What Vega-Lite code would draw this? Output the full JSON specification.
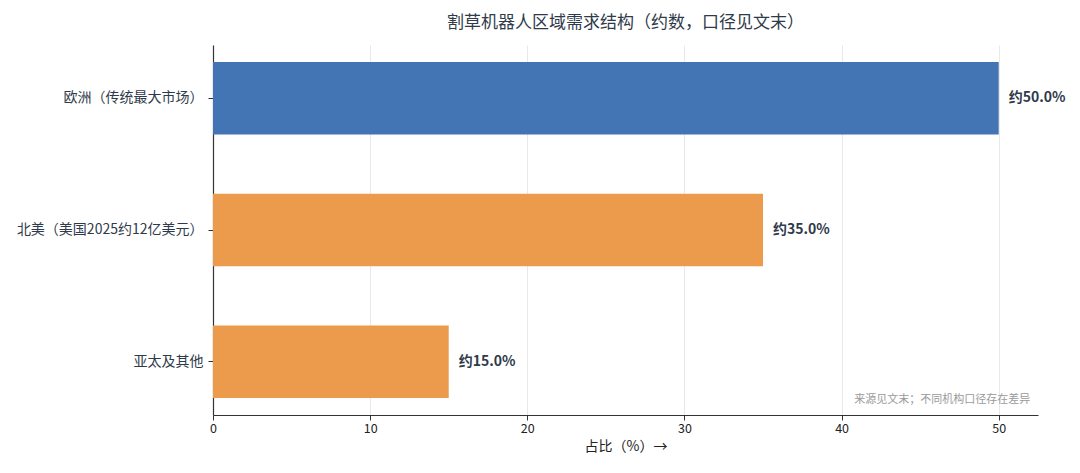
{
  "$schema": "https://vega.github.io/schema/vega-lite/v6.json",
  "width": 825,
  "height": 370,
  "autosize": {"type": "none"},
  "padding": {"left": 213, "top": 45, "right": 42, "bottom": 58},
  "background": "white",
  "config": {
    "font": "Noto Sans CJK SC",
    "view": {"stroke": null},
    "axis": {"labelFont": "Noto Sans CJK SC", "titleFont": "Noto Sans CJK SC"}
  },
  "title": {
    "text": "割草机器人区域需求结构（约数，口径见文末）",
    "fontSize": 17,
    "fontWeight": "normal",
    "color": "#2f3a4a",
    "anchor": "middle",
    "offset": 13
  },
  "data": {
    "values": [
      {"region": "欧洲（传统最大市场）", "share": 50.0, "label": "约50.0%", "group": "欧洲"},
      {"region": "北美（美国2025约12亿美元）", "share": 35.0, "label": "约35.0%", "group": "其他"},
      {"region": "亚太及其他", "share": 15.0, "label": "约15.0%", "group": "其他"}
    ]
  },
  "encoding": {
    "y": {
      "field": "region",
      "type": "nominal",
      "sort": null,
      "scale": {"paddingInner": 0.45, "paddingOuter": 0.13},
      "axis": {
        "title": null,
        "labelFontSize": 14,
        "labelColor": "#2f3a4a",
        "labelPadding": 5,
        "labelLimit": 260,
        "tickSize": 5,
        "tickColor": "#333",
        "domainColor": "#333",
        "domainWidth": 1.2,
        "grid": false
      }
    },
    "x": {
      "field": "share",
      "type": "quantitative",
      "scale": {"domain": [0, 52.5], "nice": false},
      "axis": {
        "values": [0, 10, 20, 30, 40, 50],
        "title": "占比（%）→",
        "titleFontSize": 14,
        "titleFontWeight": "normal",
        "titleColor": "#222",
        "titlePadding": 5,
        "labelFontSize": 12.5,
        "labelColor": "#222",
        "labelFlush": false,
        "tickColor": "#333",
        "tickSize": 5,
        "domainColor": "#333",
        "domainWidth": 1.2,
        "grid": true,
        "gridColor": "#e8e8e8"
      }
    }
  },
  "layer": [
    {
      "mark": {"type": "bar"},
      "encoding": {
        "color": {
          "field": "group",
          "type": "nominal",
          "scale": {"domain": ["欧洲", "其他"], "range": ["#4374b3", "#ec9a4c"]},
          "legend": null
        }
      }
    },
    {
      "mark": {"type": "text", "align": "left", "dx": 10, "fontSize": 14, "fontWeight": "bold", "color": "#2f3a4a"},
      "encoding": {"text": {"field": "label"}}
    },
    {
      "data": {"values": [{"note": "来源见文末；不同机构口径存在差异", "x": 52.0, "y": "亚太及其他"}]},
      "mark": {"type": "text", "align": "right", "baseline": "middle", "dy": 38, "fontSize": 11, "color": "#9a9a9a"},
      "encoding": {
        "x": {"field": "x", "type": "quantitative"},
        "y": {"field": "y", "type": "nominal"},
        "text": {"field": "note"}
      }
    }
  ]
}
